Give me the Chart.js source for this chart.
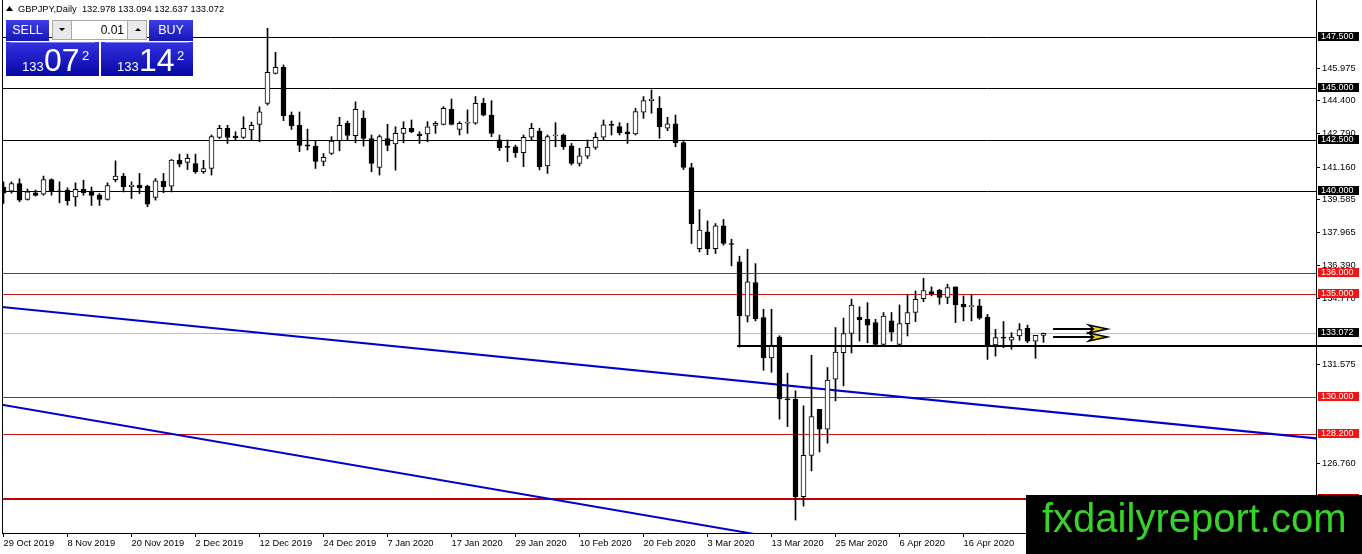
<!DOCTYPE html>
<html>
<head>
<meta charset="utf-8">
<title>GBPJPY Daily</title>
<script src="https://cdn.jsdelivr.net/npm/chart.js@4.4.1/dist/chart.umd.min.js"></script>
<style>
  html, body { margin: 0; padding: 0; background: #fff; }
  canvas { display: block; }
</style>
</head>
<body>
<canvas id="graph" width="1362" height="554"></canvas>
<script>
// daily candles, 29 Oct 2019 .. latest bar (index = trading day)
const opens = [
  140.20, 140.00, 140.37, 139.60, 139.92, 139.85, 140.56, 140.00, 140.05, 139.72,
  140.08, 140.00, 139.80, 139.59, 140.56, 140.73, 140.21, 140.29, 140.24, 139.69,
  140.48, 140.24, 141.51, 141.40, 141.34, 140.94, 141.10, 142.61, 143.05, 142.68,
  142.61, 142.98, 143.25, 144.27, 145.73, 146.02, 143.69, 143.20, 142.25, 142.19,
  141.44, 141.83, 142.45, 143.30, 142.70, 143.54, 142.56, 141.15, 142.56, 142.29,
  142.81, 143.05, 142.78, 142.78, 143.19, 143.25, 143.98, 143.00, 143.30, 143.30,
  144.27, 143.70, 142.49, 142.14, 142.16, 141.87, 142.62, 142.92, 141.22, 142.68,
  142.73, 142.20, 141.35, 141.70, 142.13, 142.62, 143.25, 143.14, 142.89, 142.78,
  143.84, 144.40, 144.03, 143.06, 143.27, 142.36, 141.15, 137.20, 138.02, 137.20,
  138.31, 137.42, 136.56, 133.91, 135.55, 133.84, 131.88, 132.90, 129.88, 129.86,
  125.13, 127.14, 129.38, 128.41, 130.85, 132.14, 133.07, 133.86, 133.76, 133.60,
  132.54, 133.68, 132.54, 133.55, 134.09, 134.77, 135.11, 135.17, 134.82, 135.34,
  134.49, 134.38, 134.41, 133.87, 132.51, 132.90, 132.75, 132.95, 133.32, 132.70,
  132.978
];
const highs = [
  140.45, 140.45, 140.60, 140.10, 140.05, 140.73, 140.60, 140.45, 140.16, 140.40,
  140.53, 140.20, 139.88, 140.40, 141.47, 140.86, 140.45, 140.86, 140.29, 140.61,
  140.86, 141.54, 141.80, 141.80, 141.80, 141.50, 142.73, 143.20, 143.20, 142.89,
  143.62, 143.36, 144.10, 147.92, 146.75, 146.14, 143.85, 143.85, 143.02, 142.45,
  141.83, 142.65, 143.59, 143.41, 144.34, 143.91, 142.73, 142.73, 143.25, 143.13,
  143.38, 143.46, 142.89, 143.38, 143.38, 144.11, 144.48, 143.38, 143.95, 144.60,
  144.52, 144.40, 142.73, 142.49, 142.24, 142.73, 143.30, 143.06, 142.73, 143.33,
  142.78, 142.32, 142.08, 142.49, 142.84, 143.46, 143.41, 143.33, 143.30, 144.03,
  144.60, 144.92, 144.60, 143.59, 143.70, 142.48, 141.35, 139.10, 138.55, 138.42,
  138.62, 137.66, 136.83, 137.17, 136.47, 134.25, 134.25, 132.96, 131.14, 130.28,
  129.55, 132.01, 129.38, 131.41, 133.36, 133.82, 134.74, 134.37, 134.57, 133.76,
  134.09, 134.09, 134.46, 134.98, 135.14, 135.76, 135.34, 135.22, 135.47, 135.34,
  134.90, 134.98, 134.73, 134.00, 133.27, 133.65, 133.11, 133.55, 133.48, 132.98,
  133.094
];
const lows = [
  139.40, 139.90, 139.48, 139.56, 139.76, 139.80, 139.80, 139.43, 139.32, 139.27,
  139.80, 139.30, 139.30, 139.56, 140.45, 139.96, 139.64, 139.88, 139.24, 139.56,
  139.92, 139.96, 141.18, 141.05, 140.86, 140.86, 140.78, 142.56, 142.32, 142.48,
  142.56, 142.48, 142.40, 144.19, 145.70, 143.43, 143.00, 141.92, 142.00, 141.10,
  141.23, 141.78, 141.96, 142.48, 142.35, 142.19, 140.94, 140.78, 141.96, 141.02,
  142.35, 142.84, 142.32, 142.40, 142.81, 143.22, 143.22, 142.73, 142.81, 143.25,
  143.66, 142.65, 141.97, 141.43, 141.64, 141.19, 142.49, 141.03, 140.86, 142.16,
  142.03, 141.27, 141.22, 141.59, 142.03, 142.50, 142.73, 142.73, 142.32, 142.73,
  143.54, 143.79, 142.57, 142.94, 142.16, 141.05, 137.45, 137.04, 136.91, 136.96,
  137.37, 136.36, 132.41, 133.63, 133.68, 131.28, 131.18, 128.90, 128.54, 123.99,
  124.67, 126.38, 127.30, 127.73, 129.79, 130.52, 132.12, 132.70, 132.62, 132.46,
  132.46, 132.70, 132.46, 132.95, 133.65, 134.62, 134.90, 134.49, 134.52, 133.60,
  133.68, 133.68, 133.76, 131.81, 131.97, 132.38, 132.30, 132.74, 132.62, 131.86,
  132.637
];
const closes = [
  139.90, 140.37, 139.56, 139.96, 139.79, 140.56, 140.00, 139.97, 139.53, 140.08,
  139.92, 139.79, 139.59, 140.27, 140.73, 140.21, 140.29, 140.16, 139.36, 140.50,
  140.21, 141.51, 141.31, 141.60, 140.94, 141.10, 142.65, 143.05, 142.61, 142.60,
  143.05, 143.20, 143.86, 145.78, 146.02, 143.67, 143.17, 142.22, 142.19, 141.44,
  141.64, 142.43, 143.20, 142.71, 143.98, 142.56, 141.35, 142.65, 142.22, 142.81,
  143.05, 142.89, 142.70, 143.13, 143.30, 144.03, 143.25, 143.30, 143.33, 144.27,
  143.70, 142.81, 142.11, 142.13, 141.87, 142.62, 143.06, 141.19, 142.65, 142.70,
  142.16, 141.35, 141.72, 142.13, 142.62, 143.22, 143.19, 142.84, 142.78, 143.87,
  144.40, 144.48, 143.14, 143.27, 142.36, 141.15, 138.42, 138.10, 137.20, 138.31,
  137.45, 137.40, 133.92, 135.58, 133.79, 131.88, 132.50, 129.88, 129.84, 125.13,
  127.14, 129.03, 128.41, 130.80, 132.16, 133.07, 134.45, 133.73, 133.48, 132.54,
  133.92, 133.14, 133.55, 134.09, 134.73, 135.16, 135.01, 134.82, 135.30, 134.46,
  134.36, 134.39, 133.81, 132.46, 132.87, 132.84, 132.90, 133.26, 132.70, 132.98,
  133.072
];

// time axis labels (every 8th bar)
const tickIndex = [0, 8, 16, 24, 32, 40, 48, 56, 64, 72, 80, 88, 96, 104, 112, 120];
const tickLabels = ['29 Oct 2019', '8 Nov 2019', '20 Nov 2019', '2 Dec 2019', '12 Dec 2019', '24 Dec 2019',
  '7 Jan 2020', '17 Jan 2020', '29 Jan 2020', '10 Feb 2020', '20 Feb 2020', '3 Mar 2020',
  '13 Mar 2020', '25 Mar 2020', '6 Apr 2020', '16 Apr 2020'];

// price axis
const priceTicks = [145.975, 144.400, 142.790, 141.160, 139.585, 137.965, 136.390, 134.770, 131.575, 126.760];
const blackLevels = [147.5, 145.0, 142.5, 140.0];
const redLevels = [136.0, 135.0, 130.0, 128.2];
const bottomLevel = 125.0;
const lastPrice = 133.072;
const supportLevel = 132.45;
const supportFrom = 91.7;

// trend lines [bar, price]
const trendUpper = [[-0.2, 134.36], [164.2, 127.96]];
const trendLower = [[-0.2, 129.60], [100.0, 122.90]];

// arrows [fromBar, toBar, price]
const arrows = [[131.2, 138.0, 133.31], [131.2, 138.0, 132.90]];

const ctx = document.getElementById('graph').getContext('2d');

const bodyData = opens.map((o, i) => ({ x: i, y: [o, closes[i]] }));
const wickData = lows.map((l, i) => ({ x: i, y: [l, highs[i]] }));
const bodyColors = opens.map((o, i) => closes[i] >= o ? '#ffffff' : '#000000');

const trendSet = (pts) => ({
  type: 'line', data: pts.map(p => ({ x: p[0], y: p[1] })), borderColor: '#0000cc',
  borderWidth: 2, pointRadius: 0, tension: 0, order: 3
});

const datasets = [
  {
    label: 'body', data: bodyData, backgroundColor: bodyColors, borderColor: '#000',
    borderWidth: 1, borderSkipped: false, barThickness: 5, minBarLength: 1,
    grouped: false, order: 0
  },
  {
    label: 'wick', data: wickData, backgroundColor: '#000', borderWidth: 0,
    barThickness: 1, grouped: false, order: 1
  },
  trendSet(trendUpper),
  trendSet(trendLower)
];

function priceBox(c, y, text, bg) {
  const yy = Math.round(y);
  c.fillStyle = bg;
  c.fillRect(1318, yy - 5, 41, 9);
  c.fillStyle = '#fff';
  c.font = '9px "Liberation Sans", Arial, sans-serif';
  c.textAlign = 'left';
  c.textBaseline = 'middle';
  c.fillText(text, 1321, yy - 0.5);
}

function vgrad(c, y0, y1, c0, c1) {
  const g = c.createLinearGradient(0, y0, 0, y1);
  g.addColorStop(0, c0);
  g.addColorStop(1, c1);
  return g;
}

// horizontal levels, under the candles, pixel-snapped
const levels = {
  id: 'levels',
  beforeDatasetsDraw(chart) {
    const c = chart.ctx;
    const ys = chart.scales.y;
    const { left, right } = chart.chartArea;
    const hl = (v, color, w) => {
      const y = Math.round(ys.getPixelForValue(v)) + (w % 2 ? 0.5 : 0);
      c.strokeStyle = color;
      c.lineWidth = w;
      c.beginPath();
      c.moveTo(left, y);
      c.lineTo(right, y);
      c.stroke();
    };
    c.save();
    hl(lastPrice, '#c0c0c0', 1);
    blackLevels.forEach(v => hl(v, '#000', 1));
    redLevels.forEach(v => hl(v, '#cc1616', 1));
    hl(bottomLevel, '#c00000', 2);
    c.restore();
  },
  afterDatasetsDraw(chart) {
    const c = chart.ctx;
    const ys = chart.scales.y, xs = chart.scales.x;
    const y = Math.round(ys.getPixelForValue(supportLevel));
    c.save();
    c.strokeStyle = '#000';
    c.lineWidth = 2;
    c.beginPath();
    c.moveTo(xs.getPixelForValue(supportFrom), y);
    c.lineTo(chart.width, y);
    c.stroke();
    c.restore();
  }
};

const overlay = {
  id: 'overlay',
  afterDraw(chart) {
    const c = chart.ctx;
    const xs = chart.scales.x, ys = chart.scales.y;
    c.save();

    // left frame
    c.strokeStyle = '#000';
    c.lineWidth = 1;
    c.beginPath();
    c.moveTo(2.5, 0);
    c.lineTo(2.5, chart.chartArea.bottom);
    c.stroke();

    // arrows
    arrows.forEach(a => {
      const x0 = xs.getPixelForValue(a[0]);
      const x1 = xs.getPixelForValue(a[1]);
      const y = Math.round(ys.getPixelForValue(a[2]));
      c.strokeStyle = '#000';
      c.lineWidth = 2;
      c.beginPath();
      c.moveTo(x0, y);
      c.lineTo(x1 - 14, y);
      c.stroke();
      c.beginPath();
      c.moveTo(x1 - 19, y - 4);
      c.lineTo(x1, y);
      c.lineTo(x1 - 19, y + 4);
      c.lineTo(x1 - 14, y);
      c.closePath();
      c.fillStyle = '#f2d40c';
      c.fill();
      c.lineWidth = 1.5;
      c.stroke();
    });

    // price boxes on the axis
    blackLevels.forEach(v => priceBox(c, ys.getPixelForValue(v), v.toFixed(3), '#000'));
    redLevels.forEach(v => priceBox(c, ys.getPixelForValue(v), v.toFixed(3), '#f01414'));
    priceBox(c, ys.getPixelForValue(bottomLevel), bottomLevel.toFixed(3), '#c00000');
    priceBox(c, ys.getPixelForValue(lastPrice), lastPrice.toFixed(3), '#000');

    // header line
    c.fillStyle = '#000';
    c.beginPath();
    c.moveTo(6, 11);
    c.lineTo(9.5, 6);
    c.lineTo(13, 11);
    c.closePath();
    c.fill();
    c.font = '9.3px "Liberation Sans", Arial, sans-serif';
    c.textAlign = 'left';
    c.textBaseline = 'middle';
    c.fillText('GBPJPY,Daily  132.978 133.094 132.637 133.072', 18, 9);

    // one-click trading panel
    c.fillStyle = vgrad(c, 20, 41, '#3d3dea', '#1616b2');
    c.fillRect(6, 20, 43, 21);
    c.fillRect(149, 20, 44, 21);
    c.fillStyle = '#e9e9e9';
    c.fillRect(52, 20, 19, 20);
    c.fillRect(128, 20, 19, 20);
    c.fillStyle = '#fff';
    c.fillRect(71, 20, 57, 20);
    c.strokeStyle = '#a8a8a8';
    c.lineWidth = 1;
    c.strokeRect(52.5, 20.5, 94, 19);
    c.beginPath();
    c.moveTo(71.5, 20); c.lineTo(71.5, 40);
    c.moveTo(127.5, 20); c.lineTo(127.5, 40);
    c.stroke();
    c.fillStyle = '#000';
    c.beginPath();
    c.moveTo(59, 28); c.lineTo(65, 28); c.lineTo(62, 31); c.closePath(); c.fill();
    c.beginPath();
    c.moveTo(135, 31); c.lineTo(141, 31); c.lineTo(138, 28); c.closePath(); c.fill();
    c.font = '12px "Liberation Sans", Arial, sans-serif';
    c.textAlign = 'right';
    c.fillText('0.01', 124, 30.5);
    c.fillStyle = '#fff';
    c.textAlign = 'center';
    c.font = '12.5px "Liberation Sans", Arial, sans-serif';
    c.fillText('SELL', 27.5, 30.5);
    c.fillText('BUY', 171, 30.5);

    c.fillStyle = vgrad(c, 42, 76, '#3232e2', '#0707a4');
    c.fillRect(6, 42, 93, 34);
    c.fillRect(101, 42, 92, 34);
    c.fillStyle = '#7a7af2';
    c.fillRect(10, 42, 85, 1);
    c.fillRect(105, 42, 84, 1);

    c.fillStyle = '#fff';
    c.textAlign = 'left';
    c.textBaseline = 'alphabetic';
    const bigPrice = (x, small, big, sup) => {
      c.font = '13px "Liberation Sans", Arial, sans-serif';
      c.fillText(small, x, 71);
      c.font = '32px "Liberation Sans", Arial, sans-serif';
      c.fillText(big, x + 22, 71);
      c.font = '13px "Liberation Sans", Arial, sans-serif';
      c.fillText(sup, x + 60, 60);
    };
    bigPrice(22, '133', '07', '2');
    bigPrice(117, '133', '14', '2');

    // watermark
    c.fillStyle = '#000';
    c.fillRect(1026, 495, 336, 59);
    c.fillStyle = '#36d32a';
    c.font = '40px "Liberation Sans", Arial, sans-serif';
    c.fillText('fxdailyreport.com', 1042, 532);

    c.restore();
  }
};

new Chart(ctx, {
  type: 'bar',
  data: { datasets: datasets },
  options: {
    responsive: false,
    animation: false,
    events: [],
    layout: { padding: { left: 2, top: 0, right: 0, bottom: 0 } },
    plugins: { legend: { display: false }, tooltip: { enabled: false } },
    scales: {
      x: {
        type: 'linear',
        min: -0.1875,
        max: 164.0625,
        offset: false,
        grid: { offset: false, drawOnChartArea: false, drawTicks: true, tickLength: 4, color: '#000' },
        border: { display: true, color: '#000', width: 1 },
        afterBuildTicks: (scale) => { scale.ticks = tickIndex.map(v => ({ value: v })); },
        afterFit: (scale) => { scale.height = 21; scale.paddingLeft = 0; scale.paddingRight = 0; },
        ticks: {
          autoSkip: false,
          maxRotation: 0,
          align: 'start',
          padding: 1,
          color: '#000',
          font: { family: '"Liberation Sans", Arial, sans-serif', size: 9.3 },
          callback: (v) => tickLabels[tickIndex.indexOf(v)] || ''
        }
      },
      y: {
        type: 'linear',
        position: 'right',
        min: 123.36,
        max: 149.30,
        grid: { drawOnChartArea: false, drawTicks: true, tickLength: 4, color: '#000' },
        border: { display: true, color: '#000', width: 1 },
        afterBuildTicks: (scale) => { scale.ticks = priceTicks.map(v => ({ value: v })); },
        afterFit: (scale) => { scale.width = 46; scale.paddingTop = 0; scale.paddingBottom = 0; },
        ticks: {
          autoSkip: false,
          padding: 2,
          color: '#000',
          font: { family: '"Liberation Sans", Arial, sans-serif', size: 9.3 },
          callback: (v) => v.toFixed(3)
        }
      }
    }
  },
  plugins: [levels, overlay]
});
</script>
</body>
</html>
